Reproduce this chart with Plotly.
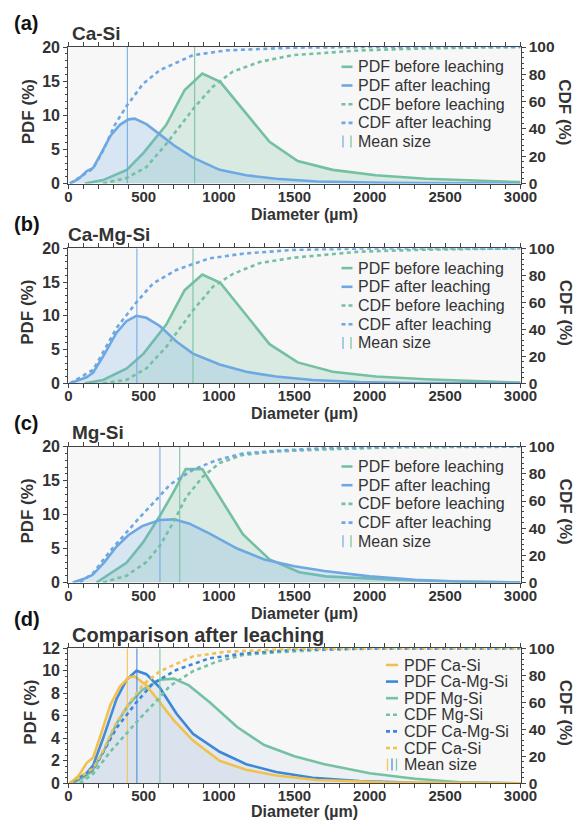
import plotly.graph_objects as go

# ---------------- DATA ----------------
# Panel titles / labels
PANEL_LABELS = ["(a)", "(b)", "(c)", "(d)"]
PANEL_TITLES = ["Ca-Si", "Ca-Mg-Si", "Mg-Si", "Comparison after leaching"]
SAMPLES = ["Ca-Si", "Ca-Mg-Si", "Mg-Si"]

# Before leaching (PDF %, vs diameter µm)
D_CASI_BEFORE = [110, 231, 388, 499, 650, 772, 889, 1008, 1335, 1522, 1754, 2040, 2371, 2812, 3000]
PDF_CASI_BEFORE = [0, 0.5, 2.0, 4.5, 8.6, 13.7, 16.1, 14.9, 6.1, 3.3, 2.0, 1.2, 0.7, 0.4, 0.2]
D_CAMGSI_BEFORE = [110, 231, 388, 499, 650, 772, 889, 1008, 1335, 1522, 1754, 2040, 2371, 2812, 3000]
PDF_CAMGSI_BEFORE = [0, 0.5, 2.2, 4.4, 8.7, 13.8, 16.1, 14.9, 5.8, 3.1, 1.7, 1.0, 0.6, 0.25, 0.1]
D_MGSI_BEFORE = [187, 386, 496, 607, 695, 779, 889, 1026, 1158, 1335, 1533, 1709, 1930, 2150, 2481, 3000]
PDF_MGSI_BEFORE = [0, 2.9, 5.9, 9.8, 13.2, 16.7, 16.7, 11.9, 7.1, 3.4, 1.5, 0.9, 0.6, 0.4, 0.2, 0]

# After leaching (PDF %)
D_CASI_AFTER = [11, 70, 121, 165, 215, 280, 342, 400, 440, 518, 607, 700, 827, 1004, 1180, 1379, 1650, 2100, 3000]
PDF_CASI_AFTER = [0, 0.7, 1.8, 2.3, 4.3, 7.0, 8.6, 9.4, 9.5, 8.7, 7.2, 5.6, 3.8, 2.0, 1.2, 0.7, 0.3, 0.1, 0]
D_CAMGSI_AFTER = [11, 77, 121, 165, 231, 320, 386, 452, 518, 607, 717, 827, 1004, 1180, 1379, 1620, 1930, 2300, 3000]
PDF_CAMGSI_AFTER = [0, 0.5, 0.9, 1.6, 4.0, 7.5, 9.2, 10.0, 9.7, 8.5, 6.2, 4.4, 2.8, 1.7, 1.0, 0.5, 0.2, 0.05, 0]
D_MGSI_AFTER = [30, 100, 160, 240, 320, 400, 490, 607, 700, 800, 938, 1120, 1300, 1500, 1700, 2000, 2300, 2600, 3000]
PDF_MGSI_AFTER = [0, 0.5, 1.1, 3.0, 5.3, 7.0, 8.3, 9.2, 9.3, 8.7, 7.2, 5.0, 3.4, 2.4, 1.7, 0.9, 0.4, 0.1, 0]

# CDF % before leaching
DC_CASI_BEFORE = [231, 386, 518, 650, 838, 960, 1092, 1268, 1489, 1930, 2371, 3000]
CDF_CASI_BEFORE = [0, 4, 12, 29, 56, 71, 82, 89, 94, 97.5, 99, 100]
DC_CAMGSI_BEFORE = [231, 386, 518, 650, 827, 960, 1092, 1268, 1489, 1930, 2371, 3000]
CDF_CAMGSI_BEFORE = [0, 2.5, 11, 27, 54, 71.6, 81, 89, 93, 97.5, 99, 100]
DC_MGSI_BEFORE = [231, 386, 518, 607, 695, 783, 893, 1004, 1158, 1379, 1709, 2150, 3000]
CDF_MGSI_BEFORE = [0, 5, 15, 27, 44, 63, 78, 88, 94, 96.5, 98, 99.5, 100]

# CDF % after leaching
DC_CASI_AFTER = [11, 165, 231, 309, 388, 496, 607, 827, 1048, 1489, 2000, 3000]
CDF_CASI_AFTER = [0, 11, 24, 43, 57, 73, 83, 94, 97.5, 99.5, 100, 100]
DC_CAMGSI_AFTER = [11, 165, 231, 320, 452, 562, 717, 938, 1158, 1489, 1930, 3000]
CDF_CAMGSI_AFTER = [0, 10, 23, 41, 60, 74, 84, 92.6, 96, 98.8, 99.8, 100]
DC_MGSI_AFTER = [77, 165, 276, 386, 474, 585, 673, 827, 982, 1158, 1379, 1709, 2150, 3000]
CDF_MGSI_AFTER = [0, 7, 23, 37, 48, 61, 72, 83, 90, 95, 97, 99, 100, 100]

# Mean sizes (µm)
MEAN_BEFORE = [838, 827, 739]
MEAN_AFTER = [392, 455, 608]

# Axes
X_RANGE = [0, 3000]
X_TICKS = [0, 500, 1000, 1500, 2000, 2500, 3000]
PDF_MAX = [20, 20, 20, 12]
PDF_DTICK = [5, 5, 5, 2]
CDF_TICKS = [0, 20, 40, 60, 80, 100]

# ---------------- STYLE ----------------
W, H = 575, 820
FONT = "Liberation Sans, Arial, sans-serif"
TXT = "#333333"
GREEN = "#74c0a0"
BLUE = "#6ea8e2"
D_COLORS = ["#f1c150", "#3c87d6", "#74c2a3"]  # Ca-Si, Ca-Mg-Si, Mg-Si
PL, PR = 68.3, 520.5
PANELS = [(47.0, 183.5), (248.3, 383.3), (446.7, 582.5), (648.3, 783.3)]


def rgba(hexc, a):
    h = hexc.lstrip("#")
    r, g, b = int(h[0:2], 16), int(h[2:4], 16), int(h[4:6], 16)
    return f"rgba({r},{g},{b},{a})"


def px(x):
    return x / W


def py(y):
    return 1 - y / H


before_d = [D_CASI_BEFORE, D_CAMGSI_BEFORE, D_MGSI_BEFORE]
before_pdf = [PDF_CASI_BEFORE, PDF_CAMGSI_BEFORE, PDF_MGSI_BEFORE]
after_d = [D_CASI_AFTER, D_CAMGSI_AFTER, D_MGSI_AFTER]
after_pdf = [PDF_CASI_AFTER, PDF_CAMGSI_AFTER, PDF_MGSI_AFTER]
before_dc = [DC_CASI_BEFORE, DC_CAMGSI_BEFORE, DC_MGSI_BEFORE]
before_cdf = [CDF_CASI_BEFORE, CDF_CAMGSI_BEFORE, CDF_MGSI_BEFORE]
after_dc = [DC_CASI_AFTER, DC_CAMGSI_AFTER, DC_MGSI_AFTER]
after_cdf = [CDF_CASI_AFTER, CDF_CAMGSI_AFTER, CDF_MGSI_AFTER]

fig = go.Figure()
LW = 2.6
DASH = "4px,3.5px"


def axn(i):
    return "" if i == 0 else str(i + 1)


for p in range(4):
    xa = "x" + axn(p)
    ya = "y" + axn(p)
    y2a = "y" + str(p + 5)
    if p < 3:
        # PDF fills + lines
        fig.add_trace(go.Scatter(x=before_d[p], y=before_pdf[p], xaxis=xa, yaxis=ya, mode="lines",
                                 line=dict(color=GREEN, width=LW), fill="tozeroy",
                                 fillcolor=rgba(GREEN, 0.22), showlegend=False))
        fig.add_trace(go.Scatter(x=after_d[p], y=after_pdf[p], xaxis=xa, yaxis=ya, mode="lines",
                                 line=dict(color=BLUE, width=LW), fill="tozeroy",
                                 fillcolor=rgba(BLUE, 0.22), showlegend=False))
        # mean lines
        fig.add_trace(go.Scatter(x=[MEAN_AFTER[p]] * 2, y=[0, PDF_MAX[p]], xaxis=xa, yaxis=ya,
                                 mode="lines", line=dict(color=rgba(BLUE, 0.85), width=1.2),
                                 showlegend=False))
        fig.add_trace(go.Scatter(x=[MEAN_BEFORE[p]] * 2, y=[0, PDF_MAX[p]], xaxis=xa, yaxis=ya,
                                 mode="lines", line=dict(color=rgba(GREEN, 0.85), width=1.2),
                                 showlegend=False))
        # CDFs
        fig.add_trace(go.Scatter(x=before_dc[p], y=before_cdf[p], xaxis=xa, yaxis=y2a, mode="lines",
                                 line=dict(color=GREEN, width=LW, dash=DASH), showlegend=False))
        fig.add_trace(go.Scatter(x=after_dc[p], y=after_cdf[p], xaxis=xa, yaxis=y2a, mode="lines",
                                 line=dict(color=BLUE, width=LW, dash=DASH), showlegend=False))
    else:
        for k in [2, 1, 0]:
            fig.add_trace(go.Scatter(x=after_d[k], y=after_pdf[k], xaxis=xa, yaxis=ya, mode="lines",
                                     line=dict(color=D_COLORS[k], width=LW), fill="tozeroy",
                                     fillcolor=rgba("#8fb0d8", 0.10), showlegend=False))
        for k in range(3):
            fig.add_trace(go.Scatter(x=[MEAN_AFTER[k]] * 2, y=[0, PDF_MAX[p]], xaxis=xa, yaxis=ya,
                                     mode="lines", line=dict(color=rgba(D_COLORS[k], 0.85), width=1.2),
                                     showlegend=False))
        for k in [2, 1, 0]:
            fig.add_trace(go.Scatter(x=after_dc[k], y=after_cdf[k], xaxis=xa, yaxis=y2a, mode="lines",
                                     line=dict(color=D_COLORS[k], width=LW, dash=DASH), showlegend=False))

layout = dict(width=W, height=H, margin=dict(l=0, r=0, t=0, b=0, autoexpand=False), paper_bgcolor="white",
              plot_bgcolor="#f7f7f7", showlegend=False, font=dict(family=FONT, color=TXT))

tickfont = dict(family=FONT, size=16, color=TXT, weight="bold")
y2tickfont = dict(family=FONT, size=15.5, color=TXT, weight="bold")
xtickfont = dict(family=FONT, size=15, color=TXT, weight="bold")
annotations = []
shapes = []

for p in range(4):
    top, bot = PANELS[p]
    xk = "xaxis" + axn(p)
    yk = "yaxis" + axn(p)
    y2k = "yaxis" + str(p + 5)
    layout[xk] = dict(domain=[px(PL), px(PR)], anchor="y" + axn(p), range=X_RANGE, automargin=False,
                      tickvals=X_TICKS, ticktext=[str(v) for v in X_TICKS], ticklabelstandoff=-5,
                      showline=True, linecolor="#444", linewidth=1.2, mirror="allticks",
                      ticks="outside", ticklen=4, tickcolor="#444", tickwidth=1.2,
                      minor=dict(ticks="outside", ticklen=2.5, dtick=100, tickcolor="#444", tickwidth=1),
                      showgrid=False, zeroline=False, tickfont=xtickfont)
    layout[yk] = dict(domain=[py(bot), py(top)], anchor="x" + axn(p), range=[0, PDF_MAX[p]], automargin=False,
                      dtick=PDF_DTICK[p], tick0=0, showline=True, linecolor="#444", linewidth=1.2,
                      ticks="outside", ticklen=4, tickcolor="#444", tickwidth=1.2,
                      minor=dict(ticks="outside", ticklen=2.5, dtick=PDF_DTICK[p] / 5 if p < 3 else 0.5,
                                 tickcolor="#444", tickwidth=1),
                      showgrid=False, zeroline=False, tickfont=tickfont)
    layout[y2k] = dict(overlaying="y" + axn(p), side="right", anchor="x" + axn(p), range=[0, 100],
                       automargin=False,
                       tickvals=CDF_TICKS, showline=True, linecolor="#444", linewidth=1.2,
                       ticks="outside", ticklen=4, tickcolor="#444", tickwidth=1.2,
                       minor=dict(ticks="outside", ticklen=2.5, dtick=4, tickcolor="#444", tickwidth=1),
                       showgrid=False, zeroline=False, tickfont=y2tickfont)

    # panel label and title
    annotations.append(dict(text="<b>" + PANEL_LABELS[p] + "</b>", x=px(12), y=py(top - 24 if p < 3 else top - 29),
                            xref="paper", yref="paper", xanchor="left", yanchor="middle", showarrow=False,
                            font=dict(family=FONT, size=20, color="#111")))
    annotations.append(dict(text="<b>" + PANEL_TITLES[p] + "</b>", x=px(70 if p != 1 else 66),
                            y=py(top - 14 if p < 3 else top - 13),
                            xref="paper", yref="paper", xanchor="left", yanchor="middle", showarrow=False,
                            font=dict(family=FONT, size=19 if p < 3 else 20, color=TXT)))
    # axis titles
    annotations.append(dict(text="<b>PDF (%)</b>", x=px(28 if p < 3 else 31), y=py((top + bot) / 2 - 3),
                            xref="paper", yref="paper", xanchor="center", yanchor="middle", showarrow=False,
                            textangle=-90, font=dict(family=FONT, size=17, color=TXT)))
    annotations.append(dict(text="<b>CDF (%)</b>", x=px(565), y=py((top + bot) / 2 - 3),
                            xref="paper", yref="paper", xanchor="center", yanchor="middle", showarrow=False,
                            textangle=90, font=dict(family=FONT, size=17, color=TXT)))
    annotations.append(dict(text="<b>Diameter (µm)</b>", x=px(304), y=py(bot + (30.5 if p < 3 else 28.5)),
                            xref="paper", yref="paper", xanchor="center", yanchor="middle", showarrow=False,
                            borderpad=0, font=dict(family=FONT, size=16, color=TXT)))

    # manual legend
    if p < 3:
        entries = [("PDF before leaching", [GREEN], "solid"),
                   ("PDF after leaching", [BLUE], "solid"),
                   ("CDF before leaching", [GREEN], "dash"),
                   ("CDF after leaching", [BLUE], "dash"),
                   ("Mean size", [BLUE, GREEN], "bar")]
        tx, ix0, ix1, off0, step = 356, 341.5, 352.5, 19.8, 18.7
    else:
        entries = [("PDF Ca-Si", [D_COLORS[0]], "solid"),
                   ("PDF Ca-Mg-Si", [D_COLORS[1]], "solid"),
                   ("PDF Mg-Si", [D_COLORS[2]], "solid"),
                   ("CDF Mg-Si", [D_COLORS[2]], "dash"),
                   ("CDF Ca-Mg-Si", [D_COLORS[1]], "dash"),
                   ("CDF Ca-Si", [D_COLORS[0]], "dash"),
                   ("Mean size", D_COLORS, "bar")]
        tx, ix0, ix1, off0, step = 401.5, 386, 398, 16.7, 16.6
    for j, (name, cols, kind) in enumerate(entries):
        yy = top + off0 + j * step
        annotations.append(dict(text=name, x=px(tx), y=py(yy), xref="paper", yref="paper",
                                xanchor="left", yanchor="middle", showarrow=False,
                                font=dict(family=FONT, size=16, color=TXT)))
        if kind == "solid":
            shapes.append(dict(type="line", xref="paper", yref="paper", x0=px(ix0), x1=px(ix1),
                               y0=py(yy), y1=py(yy), line=dict(color=cols[0], width=2.6)))
        elif kind == "dash":
            shapes.append(dict(type="line", xref="paper", yref="paper", x0=px(ix0), x1=px(ix1),
                               y0=py(yy), y1=py(yy), line=dict(color=cols[0], width=2.6, dash="4px,3px")))
        else:
            n = len(cols)
            for c_i, c in enumerate(cols):
                xx = ix0 + 1.5 + c_i * ((ix1 - ix0 - 3) / (n - 1))
                shapes.append(dict(type="line", xref="paper", yref="paper", x0=px(xx), x1=px(xx),
                                   y0=py(yy - 6), y1=py(yy + 6), line=dict(color=rgba(c, 0.9), width=1.3)))

layout["annotations"] = annotations
layout["shapes"] = shapes
fig.update_layout(**layout)
fig.write_html("out.html")
